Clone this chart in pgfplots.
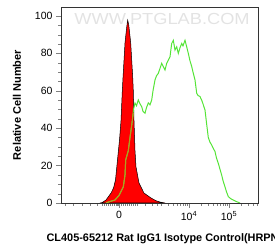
\documentclass[border=0pt]{standalone}
\usepackage{fontspec}
\setmainfont{Liberation Sans}
\usepackage{pgfplots}
\pgfplotsset{compat=1.18}
\definecolor{fgreen}{RGB}{85,228,55}
\definecolor{olivel}{RGB}{178,160,30}
\begin{document}
\begin{tikzpicture}
\node[text=gray!22, font=\fontsize{16}{16}\selectfont, xscale=1.14] at (162pt,232pt) {WWW.PTGLAB.COM};
\begin{axis}[
 at={(61pt,48pt)}, anchor=south west, scale only axis, width=197pt, height=196pt,
 xmin=61, xmax=258, ymin=0, ymax=104.8,
 xtick={119,189,229}, xticklabels={0,10\textsuperscript{4},10\textsuperscript{5}},
 minor xtick={65,73,82,90,97,102,104,106,108,110,112,114,116,117,118,121,123,125,127,129,131,133,135,137,145,152,157,161,168,173,177,180,183,185,187,201,208,213,217,220,223,225,227,241,248,253,257},
 ytick={0,20,...,100}, minor y tick num=3,
 tick align=outside, xtick pos=left, ytick pos=left,
 major tick length=5pt, minor tick length=3pt,
 tick label style={font=\fontsize{10.5}{12}\selectfont},
 /pgf/number format/assume math mode=true,
 axis line style={black!80},
 ylabel={Relative Cell Number},
 xlabel={CL405-65212 Rat IgG1 Isotype Control(HRPN)},
 xlabel style={at={(axis description cs:-0.091,-0.184)}, anchor=west, font=\bfseries\fontsize{10.9}{12}\selectfont},
 ylabel style={at={(axis description cs:-0.223,0.5)}, anchor=center, font=\bfseries\fontsize{11}{12}\selectfont},
]
\addplot[fill=red, draw=black, line width=0.5pt] coordinates {
(100,0)(102,0.2)(106,1.6)(111,5.3)(113.5,8)(115.5,12.3)(117.5,23)(119.5,33.7)(121,44)(122.3,60)(123,67)(125,85.6)(126.7,94)(127.7,97.8)(128.8,95)(130.7,85.6)(132.7,67.4)(133.3,60)(134,44)(135,28)(136,19.3)(139,10.7)(144,5.3)(151,2.7)(156,1.2)(160,0.5)(165,0)
} \closedcycle;
\addplot[color=fgreen, line width=1pt] coordinates {
(106,0)(110,0.8)(115,1.6)(119,4)(123.3,8.6)(125,15)(125.7,23)(128.3,28)(130,35)(132.3,44)(133.5,50)(135,53.5)(136.5,52)(138.3,55.1)(140,53)(141.7,51.5)(143,49)(145,48)(146.5,51)(148.3,53.5)(150,52.5)(151.7,55.1)(153,60)(155,65.8)(156.5,68)(158.3,69.3)(160,72)(161.7,74.7)(163.3,72.9)(165,71.1)(166.7,74.7)(168,76)(170,78.2)(171.7,85.3)(173.3,87)(175,81.8)(176.7,83.5)(178.3,80)(180,83)(181.7,85.3)(183,84)(185,87)(186.7,83.5)(188.3,80)(190,76)(191.7,73)(193,70)(195,65.8)(196.7,58.7)(198,57.5)(200,56.9)(201.7,55)(203,53)(205,49.7)(206.7,42)(208.3,35)(210,32.5)(211.7,31)(213,29.5)(215,27.5)(216.5,24)(218.3,21.2)(220,18)(221.7,14.9)(223,12)(225,8.6)(226.5,6)(228.3,3.4)(231,2.2)(233.3,1.6)(236.7,0.7)(240,0)
};
\addplot[color=olivel, line width=1pt] coordinates {
(106,0)(110,0.8)(115,1.6)(119,4)(123.3,8.6)(125,15)(125.7,23)(128.3,28)(130,35)(132.3,44)(133.3,48)
};
\end{axis}
\pgfresetboundingbox
\path[use as bounding box] (0,0) rectangle (275pt,251pt);
\end{tikzpicture}
\end{document}
